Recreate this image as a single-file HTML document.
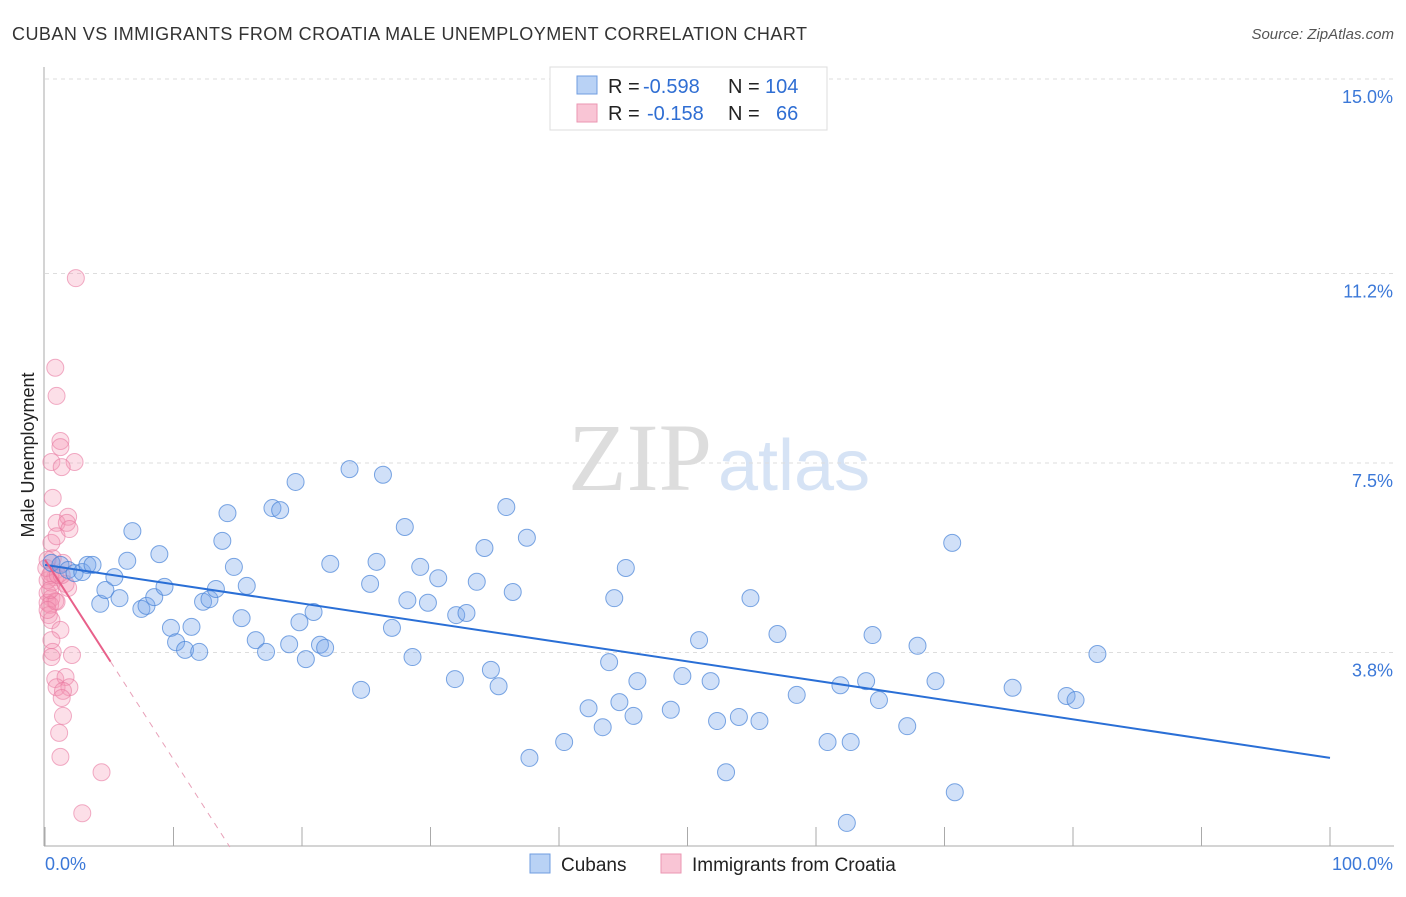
<!DOCTYPE html>
<html><head><meta charset="utf-8"><style>
body{margin:0;background:#fff;font-family:"Liberation Sans",sans-serif}
</style></head><body>
<svg id="chart" width="1406" height="892" xmlns="http://www.w3.org/2000/svg">
<text x="12" y="40" font-size="18" fill="#333" textLength="795">CUBAN VS IMMIGRANTS FROM CROATIA MALE UNEMPLOYMENT CORRELATION CHART</text>
<text x="1394" y="39" font-size="15" fill="#555" font-style="italic" text-anchor="end">Source: ZipAtlas.com</text>
<text x="712" y="490" font-size="96" fill="#ddd" font-family="Liberation Serif,serif" text-anchor="end">ZIP</text>
<text x="718" y="490" font-size="72" fill="#d6e3f5">atlas</text>
<text transform="translate(34,455) rotate(-90)" font-size="18" fill="#222" text-anchor="middle">Male Unemployment</text>
<g id="grid"></g><g id="marks"></g>
<g>
<rect x="550" y="67" width="277" height="63" fill="#fff" stroke="#ddd"/>
<rect x="577" y="76" width="20" height="18" fill="#b9d2f5" stroke="#6f9ce0"/>
<rect x="577" y="104" width="20" height="18" fill="#f9c5d5" stroke="#eb96b2"/>
<text x="608" y="93" font-size="20" fill="#222">R =</text>
<text x="643" y="93" font-size="20" fill="#2f6ed3">-0.598</text>
<text x="728" y="93" font-size="20" fill="#222">N =</text>
<text x="765" y="93" font-size="20" fill="#2f6ed3">104</text>
<text x="608" y="120" font-size="20" fill="#222">R =</text>
<text x="647" y="120" font-size="20" fill="#2f6ed3">-0.158</text>
<text x="728" y="120" font-size="20" fill="#222">N =</text>
<text x="776" y="120" font-size="20" fill="#2f6ed3">66</text>
</g>
<g>
<rect x="530" y="854" width="20" height="19" fill="#b9d2f5" stroke="#6f9ce0"/>
<text x="561" y="871" font-size="19" fill="#222">Cubans</text>
<rect x="661" y="854" width="20" height="19" fill="#f9c5d5" stroke="#eb96b2"/>
<text x="692" y="871" font-size="19" fill="#222">Immigrants from Croatia</text>
</g>
</svg>
<script>
const yTicks=[15.0,11.2,7.5,3.8];
const yTickLabels=["15.0%","11.2%","7.5%","3.8%"];
const xTicks=[0,10,20,30,40,50,60,70,80,90,100];
const blueX=[0.5,1.2,1.8,2.3,2.9,3.3,3.7,4.3,4.7,5.4,5.8,6.4,6.8,7.5,7.9,8.5,8.9,9.3,9.8,10.2,10.9,11.4,12.0,12.3,12.8,13.3,13.8,14.2,14.7,15.3,15.7,16.4,17.2,17.7,18.3,19.0,19.5,19.8,20.3,20.9,21.4,21.8,22.2,23.7,24.6,25.3,25.8,26.3,27.0,28.0,28.2,28.6,29.2,29.8,30.6,31.9,32.0,32.8,33.6,34.2,34.7,35.3,35.9,36.4,37.5,37.7,40.4,42.3,43.4,43.9,44.3,44.7,45.2,45.8,46.1,48.7,49.6,50.9,51.8,52.3,53.0,54.0,54.9,55.6,57.0,58.5,60.9,61.9,62.4,62.7,63.9,64.4,64.9,67.1,67.9,69.3,70.6,70.8,75.3,79.5,80.2,81.9];
const blueY=[5.55,5.51,5.41,5.35,5.37,5.51,5.51,4.75,5.02,5.27,4.86,5.59,6.17,4.65,4.71,4.88,5.72,5.08,4.28,4.00,3.85,4.30,3.81,4.79,4.84,5.04,5.98,6.52,5.47,4.47,5.10,4.04,3.81,6.62,6.58,3.96,7.13,4.39,3.67,4.59,3.95,3.89,5.53,7.38,3.07,5.14,5.57,7.27,4.28,6.25,4.82,3.71,5.47,4.77,5.25,3.28,4.53,4.57,5.18,5.84,3.46,3.14,6.64,4.98,6.04,1.74,2.05,2.71,2.34,3.61,4.86,2.83,5.45,2.56,3.24,2.68,3.34,4.04,3.24,2.46,1.46,2.54,4.86,2.46,4.16,2.97,2.05,3.16,0.47,2.05,3.24,4.14,2.87,2.36,3.93,3.24,5.94,1.07,3.11,2.95,2.87,3.77];
const pinkX=[2.4,0.8,0.9,1.2,1.2,0.5,2.3,1.3,0.6,0.9,1.8,1.7,0.5,0.9,1.9,0.6,1.4,0.5,0.8,0.5,1.6,1.8,0.2,0.5,0.8,0.2,0.4,0.9,0.3,0.5,1.2,0.5,0.6,0.5,2.1,0.8,1.6,0.9,1.9,1.4,1.3,1.4,1.1,1.2,4.4,2.9,0.2,0.1,0.4,1.0,1.3,0.2,0.2,0.4];
const pinkY=[11.11,9.36,8.81,7.93,7.81,7.52,7.52,7.42,6.82,6.33,6.45,6.33,5.94,6.07,6.21,5.64,5.55,5.35,5.27,5.16,5.14,5.06,4.96,4.86,4.80,4.77,4.73,4.79,4.53,4.43,4.24,4.04,3.81,3.71,3.75,3.28,3.32,3.12,3.12,3.05,2.91,2.56,2.23,1.76,1.46,0.66,5.21,5.45,5.31,5.31,5.31,5.61,4.63,5.02];
const blueTrend=[5.51,1.74];
const pinkTrend=[5.61,-0.39];
const pinkSolidEnd=5.1;
const NS="http://www.w3.org/2000/svg";
const X=v=>45+v*12.85, Y=v=>79+(15-v)*51.2;
function mk(tag,attrs,parent){const e=document.createElementNS(NS,tag);for(const k in attrs)e.setAttribute(k,attrs[k]);parent.appendChild(e);return e;}
const grid=document.getElementById('grid'),marks=document.getElementById('marks');
yTicks.forEach((t,i)=>{
 const l=mk('line',{x1:45,x2:1394,y1:Y(t),y2:Y(t),stroke:'#ddd','stroke-dasharray':'4,4'},grid);
 
 
 const tx=mk('text',{x:1393,y:Y(t)+24,'font-size':18,fill:'#3b78d8','text-anchor':'end'},grid);
 tx.textContent=yTickLabels[i];
 
 
});
const ax=mk('line',{x1:44,x2:44,y1:67,y2:846,stroke:'#aaa'},grid);


const bx=mk('line',{x1:44,x2:1394,y1:846,y2:846,stroke:'#aaa'},grid);


xTicks.forEach(t=>{
 const l=mk('line',{x1:X(t),x2:X(t),y1:827,y2:846,stroke:'#aaa'},grid);
 
 
});
const xl0=mk('text',{x:45,y:870,'font-size':18,fill:'#3b78d8'},grid);xl0.textContent='0.0%';


const xl1=mk('text',{x:1393,y:870,'font-size':18,fill:'#3b78d8','text-anchor':'end'},grid);xl1.textContent='100.0%';


pinkX.forEach((v,i)=>{
 const c=mk('circle',{cx:X(v),cy:Y(pinkY[i]),r:8.5,fill:'rgba(245,150,180,0.3)',stroke:'rgba(232,120,160,0.6)','stroke-width':1},marks);
 
 
});
blueX.forEach((v,i)=>{
 const c=mk('circle',{cx:X(v),cy:Y(blueY[i]),r:8.5,fill:'rgba(120,165,235,0.35)',stroke:'rgba(70,130,215,0.7)','stroke-width':1},marks);
 
 
});
const bt=mk('line',{x1:X(0),y1:Y(blueTrend[0]),x2:X(100),y2:Y(blueTrend[1]),stroke:'#2a6fd6','stroke-width':2},marks);


const pz=-pinkTrend[0]/pinkTrend[1];
const pd=mk('line',{x1:X(pinkSolidEnd),y1:Y(pinkTrend[0]+pinkTrend[1]*pinkSolidEnd),x2:X(pz),y2:Y(0),stroke:'#e8a0b8','stroke-width':1,'stroke-dasharray':'6,6'},marks);


const ps=mk('line',{x1:X(0),y1:Y(pinkTrend[0]),x2:X(pinkSolidEnd),y2:Y(pinkTrend[0]+pinkTrend[1]*pinkSolidEnd),stroke:'#e8608a','stroke-width':2},marks);


</script>
</body></html>
